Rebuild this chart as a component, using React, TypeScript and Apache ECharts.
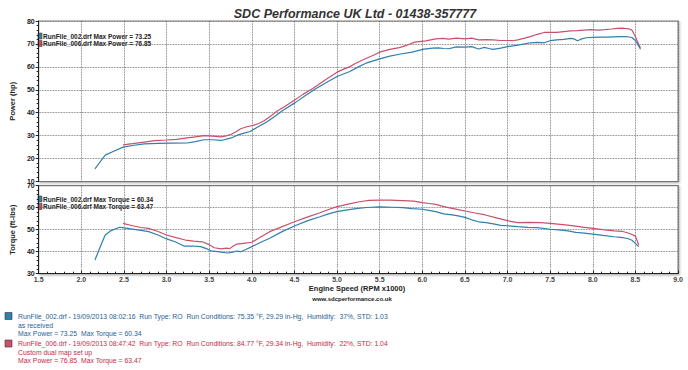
import React, { useEffect, useRef } from "react";
import * as echarts from "echarts";

const title = "SDC Performance UK Ltd - 01438-357777";
const xTicks = { min: 1.5, max: 9.0, interval: 0.5 };

const powerRpm002 = [2.16, 2.22, 2.28, 2.38, 2.49, 2.62, 2.74, 2.9, 3.06, 3.24, 3.34, 3.44, 3.54, 3.64, 3.76, 3.83, 3.9, 3.98, 4.08, 4.18, 4.28, 4.37, 4.51, 4.63, 4.76, 4.88, 5.0, 5.15, 5.25, 5.34, 5.5, 5.62, 5.73, 5.88, 6.02, 6.12, 6.19, 6.25, 6.31, 6.4, 6.5, 6.58, 6.66, 6.73, 6.78, 6.83, 6.92, 7.0, 7.12, 7.2, 7.27, 7.35, 7.43, 7.5, 7.58, 7.66, 7.74, 7.78, 7.82, 7.88, 7.93, 8.0, 8.09, 8.17, 8.25, 8.33, 8.39, 8.46, 8.5, 8.52, 8.56];
const power002 = [15.5, 18.5, 21.5, 23.2, 25.0, 25.8, 26.4, 26.6, 26.7, 26.8, 27.4, 28.2, 28.2, 27.9, 29.0, 30.2, 31.0, 31.8, 34.0, 36.1, 38.7, 41.2, 44.4, 47.5, 50.7, 53.3, 55.8, 58.0, 60.0, 61.6, 63.5, 64.7, 65.5, 66.4, 67.7, 68.2, 68.3, 68.0, 67.9, 68.7, 68.6, 68.8, 67.8, 68.5, 68.0, 67.6, 68.2, 68.8, 69.5, 70.0, 70.5, 70.7, 70.5, 71.4, 71.8, 72.0, 72.4, 72.2, 71.4, 72.3, 72.7, 72.9, 73.0, 73.0, 73.1, 73.2, 73.25, 72.8, 71.5, 70.3, 67.7];

const powerRpm006 = [2.49, 2.6, 2.74, 2.86, 3.0, 3.12, 3.24, 3.34, 3.44, 3.54, 3.64, 3.7, 3.76, 3.82, 3.87, 3.95, 4.02, 4.08, 4.14, 4.22, 4.29, 4.39, 4.49, 4.6, 4.72, 4.86, 5.0, 5.08, 5.15, 5.22, 5.3, 5.4, 5.5, 5.62, 5.73, 5.82, 5.91, 6.04, 6.1, 6.16, 6.24, 6.31, 6.4, 6.5, 6.58, 6.66, 6.75, 6.83, 6.92, 7.0, 7.06, 7.12, 7.2, 7.27, 7.35, 7.43, 7.5, 7.58, 7.66, 7.74, 7.82, 7.9, 7.98, 8.06, 8.14, 8.22, 8.29, 8.36, 8.42, 8.46, 8.5, 8.54, 8.56];
const power006 = [26.0, 26.5, 27.2, 27.8, 28.1, 28.4, 29.0, 29.5, 30.0, 29.8, 29.5, 29.9, 30.6, 31.8, 33.0, 34.0, 34.5, 35.3, 36.4, 38.5, 40.5, 42.8, 45.2, 48.0, 50.7, 54.3, 57.7, 59.0, 60.1, 61.6, 63.0, 64.6, 66.4, 67.6, 68.4, 69.4, 70.8, 71.3, 71.8, 72.2, 72.4, 72.1, 72.5, 72.2, 72.5, 71.8, 71.9, 71.8, 71.5, 71.5, 71.4, 71.8, 72.5, 73.2, 74.2, 75.0, 75.0, 75.0, 75.4, 75.7, 75.8, 76.0, 76.2, 76.0, 76.2, 76.5, 76.8, 76.85, 76.6, 76.0, 73.2, 69.6, 68.3];

const torqueRpm002 = [2.16, 2.22, 2.28, 2.35, 2.45, 2.5, 2.6, 2.7, 2.79, 2.9, 3.0, 3.1, 3.21, 3.3, 3.4, 3.46, 3.52, 3.6, 3.71, 3.78, 3.82, 3.87, 3.93, 4.0, 4.1, 4.21, 4.35, 4.5, 4.65, 4.8, 4.9, 5.0, 5.1, 5.22, 5.35, 5.5, 5.65, 5.77, 5.88, 6.0, 6.08, 6.16, 6.25, 6.35, 6.42, 6.5, 6.58, 6.66, 6.75, 6.85, 6.92, 7.0, 7.12, 7.24, 7.35, 7.5, 7.6, 7.71, 7.8, 7.9, 8.0, 8.12, 8.25, 8.33, 8.41, 8.46, 8.5, 8.54];
const torque002 = [36.2, 42.0, 47.6, 49.6, 51.1, 50.8, 50.3, 49.7, 49.1, 47.6, 45.8, 44.5, 42.5, 42.6, 42.3, 41.5, 40.4, 40.0, 39.4, 39.8, 40.3, 40.0, 41.0, 42.3, 44.2, 46.1, 49.0, 51.7, 54.0, 55.9, 57.2, 58.2, 58.9, 59.6, 60.1, 60.34, 60.2, 60.0, 59.6, 59.3, 58.8, 58.2, 57.2, 56.7, 56.3, 55.6, 54.5, 53.6, 53.2, 52.5, 52.0, 51.8, 51.4, 51.1, 50.9, 50.2, 49.9, 49.5, 48.8, 48.4, 48.0, 47.4, 46.8, 46.5, 46.0, 45.2, 43.8, 42.3];

const torqueRpm006 = [2.49, 2.6, 2.7, 2.79, 2.9, 3.0, 3.1, 3.22, 3.32, 3.42, 3.5, 3.56, 3.64, 3.7, 3.74, 3.78, 3.82, 3.9, 4.0, 4.1, 4.21, 4.35, 4.5, 4.65, 4.8, 4.9, 5.0, 5.13, 5.26, 5.38, 5.5, 5.62, 5.77, 5.9, 6.0, 6.08, 6.16, 6.25, 6.35, 6.42, 6.5, 6.62, 6.74, 6.87, 7.0, 7.12, 7.25, 7.39, 7.5, 7.65, 7.78, 7.9, 8.0, 8.12, 8.25, 8.35, 8.41, 8.46, 8.5, 8.54];
const torque006 = [52.9, 51.8, 51.0, 50.6, 49.2, 47.6, 46.5, 45.3, 44.8, 44.5, 43.2, 41.8, 41.3, 41.6, 41.4, 42.5, 43.4, 43.8, 44.3, 46.6, 49.1, 51.3, 53.6, 55.7, 57.7, 59.2, 60.5, 61.6, 62.7, 63.3, 63.47, 63.4, 63.2, 63.0, 62.3, 61.9, 61.5, 60.5, 59.7, 59.1, 58.5, 57.6, 56.7, 55.4, 54.1, 53.2, 53.3, 53.2, 52.9, 52.3, 51.7, 51.1, 50.6, 50.0, 49.5, 49.2, 48.6, 47.8, 47.1, 43.0];

const powerLegend = ["RunFile_002.drf Max Power = 73.25", "RunFile_006.drf Max Power = 76.85"];
const torqueLegend = ["RunFile_002.drf Max Torque = 60.34", "RunFile_006.drf Max Torque = 63.47"];
const infoLines002 = [
  "RunFile_002.drf - 19/09/2013 08:02:16  Run Type: RO  Run Conditions: 75.35 °F, 29.29 in-Hg,  Humidity:  37%, STD: 1.03",
  "as received",
  "Max Power = 73.25  Max Torque = 60.34",
];
const infoLines006 = [
  "RunFile_006.drf - 19/09/2013 08:47:42  Run Type: RO  Run Conditions: 84.77 °F, 29.34 in-Hg,  Humidity:  22%, STD: 1.04",
  "Custom dual map set up",
  "Max Power = 76.85  Max Torque = 63.47",
];

const BLUE = "#2f7fb0";
const RED = "#c9506c";
const BLUE_TXT = "#1d5f95";
const RED_TXT = "#c62a48";

if (typeof document !== "undefined") {
  document.body.style.margin = "0";
}

function pairs(xs: number[], ys: number[]) {
  return xs.map((x, i) => [x, ys[i]]);
}

export default function App() {
  const ref = useRef<HTMLDivElement>(null);
  useEffect(() => {
    if (!ref.current) return;
    const chart = echarts.init(ref.current, undefined, { renderer: "svg" });
    const gridCommon = {
      show: true,
      left: 33,
      width: 645,
      borderColor: "#8a8a8a",
      borderWidth: 1.2,
      backgroundColor: "#ffffff",
      shadowColor: "rgba(0,0,0,0.35)",
      shadowBlur: 2,
      shadowOffsetX: 1,
      shadowOffsetY: 1,
    };
    const splitLine = { show: true, lineStyle: { type: "dotted", color: "#555", width: 0.8 } };
    const labelFont = { fontFamily: "Liberation Sans, Arial", fontSize: 7, fontWeight: "bold", color: "#222" };
    const xCommon = {
      type: "value",
      min: xTicks.min,
      max: xTicks.max,
      interval: xTicks.interval,
      splitLine,
      axisLine: { show: true, lineStyle: { color: "#222", width: 1 } },
    };
    const legendItems = (lines: string[], y0: number) =>
      lines.flatMap((t, i) => [
        {
          type: "rect",
          shape: { x: 38, y: y0 + i * 7.5 - 3, width: 4, height: 6 },
          style: { fill: i === 0 ? BLUE : RED, stroke: "#444", lineWidth: 0.6 },
        },
        {
          type: "text",
          style: {
            text: t,
            x: 43,
            y: y0 + i * 7.5,
            font: "bold 6.5px 'Liberation Sans', Arial",
            fill: "#222",
            textVerticalAlign: "middle",
            verticalAlign: "middle",
          },
        },
      ]);
    const infoItems = (lines: string[], y0: number[], color: string, fillIcon: string) => [
      {
        type: "rect",
        shape: { x: 5, y: y0[0] - 3.5, width: 7, height: 7 },
        style: { fill: fillIcon, stroke: "#333", lineWidth: 0.6 },
      },
      ...lines.map((t, i) => ({
        type: "text",
        style: {
          text: t,
          x: 18,
          y: y0[i],
          font: "6.85px 'Liberation Sans', Arial",
          fill: color,
          textVerticalAlign: "middle",
          verticalAlign: "middle",
        },
      })),
    ];
    chart.setOption({
      animation: false,
      backgroundColor: "#ffffff",
      title: {
        text: title,
        left: 350,
        textAlign: "center",
        top: 2,
        textStyle: { fontFamily: "Liberation Sans, Arial", fontSize: 12.5, fontWeight: "bold", fontStyle: "italic", color: "#333" },
      },
      grid: [
        { ...gridCommon, top: 21, height: 160.5 },
        { ...gridCommon, top: 185.7, height: 88 },
      ],
      xAxis: [
        {
          ...xCommon,
          gridIndex: 0,
          axisLabel: { show: false },
          axisTick: { show: false },
          axisLine: { show: false },
        },
        {
          ...xCommon,
          gridIndex: 1,
          axisTick: { show: true, inside: true, length: 3, lineStyle: { color: "#222" } },
          minorTick: { show: true, splitNumber: 5, length: 2, lineStyle: { color: "#222" } },
          axisLabel: { ...labelFont, color: "#444", margin: 2, formatter: (v: number) => v.toFixed(1) },
        },
      ],
      yAxis: [
        {
          type: "value",
          gridIndex: 0,
          min: 10,
          max: 80,
          interval: 10,
          splitLine,
          axisLine: { show: true, lineStyle: { color: "#222" } },
          axisTick: { show: true, length: 3, lineStyle: { color: "#222" } },
          minorTick: { show: true, splitNumber: 5, length: 2, lineStyle: { color: "#222" } },
          axisLabel: { ...labelFont, margin: 4 },
          name: "Power (hp)",
          nameLocation: "middle",
          nameGap: 16,
          nameTextStyle: { fontFamily: "Liberation Sans, Arial", fontSize: 7.5, fontWeight: "bold", color: "#222" },
        },
        {
          type: "value",
          gridIndex: 1,
          min: 30,
          max: 70,
          interval: 10,
          splitLine,
          axisLine: { show: true, lineStyle: { color: "#222" } },
          axisTick: { show: true, length: 3, lineStyle: { color: "#222" } },
          minorTick: { show: true, splitNumber: 5, length: 2, lineStyle: { color: "#222" } },
          axisLabel: { ...labelFont, margin: 4 },
          name: "Torque (ft-lbs)",
          nameLocation: "middle",
          nameGap: 16,
          nameTextStyle: { fontFamily: "Liberation Sans, Arial", fontSize: 7.5, fontWeight: "bold", color: "#222" },
        },
      ],
      series: [
        { type: "line", xAxisIndex: 0, yAxisIndex: 0, data: pairs(powerRpm002, power002), showSymbol: false, symbol: "none", lineStyle: { color: BLUE, width: 1.2 }, z: 3 },
        { type: "line", xAxisIndex: 0, yAxisIndex: 0, data: pairs(powerRpm006, power006), showSymbol: false, symbol: "none", lineStyle: { color: RED, width: 1.2 }, z: 2 },
        { type: "line", xAxisIndex: 1, yAxisIndex: 1, data: pairs(torqueRpm002, torque002), showSymbol: false, symbol: "none", lineStyle: { color: BLUE, width: 1.2 }, z: 3 },
        { type: "line", xAxisIndex: 1, yAxisIndex: 1, data: pairs(torqueRpm006, torque006), showSymbol: false, symbol: "none", lineStyle: { color: RED, width: 1.2 }, z: 2 },
      ],
      graphic: [
        ...legendItems(powerLegend, 36),
        ...legendItems(torqueLegend, 199),
        {
          type: "text",
          style: {
            text: "Engine Speed (RPM x1000)",
            x: 357,
            y: 288.5,
            font: "bold 7.5px 'Liberation Sans', Arial",
            fill: "#222",
            textAlign: "center",
            align: "center",
            textVerticalAlign: "middle",
            verticalAlign: "middle",
          },
        },
        {
          type: "text",
          style: {
            text: "www.sdcperformance.co.uk",
            x: 352,
            y: 299,
            font: "bold 6px 'Liberation Sans', Arial",
            fill: "#222",
            textAlign: "center",
            align: "center",
            textVerticalAlign: "middle",
            verticalAlign: "middle",
          },
        },
        ...infoItems(infoLines002, [316, 325.5, 333.5], BLUE_TXT, BLUE),
        ...infoItems(infoLines006, [343.5, 352, 360], RED_TXT, RED),
      ],
    });
    return () => chart.dispose();
  }, []);
  return <div ref={ref} style={{ width: 688, height: 370 }} />;
}
